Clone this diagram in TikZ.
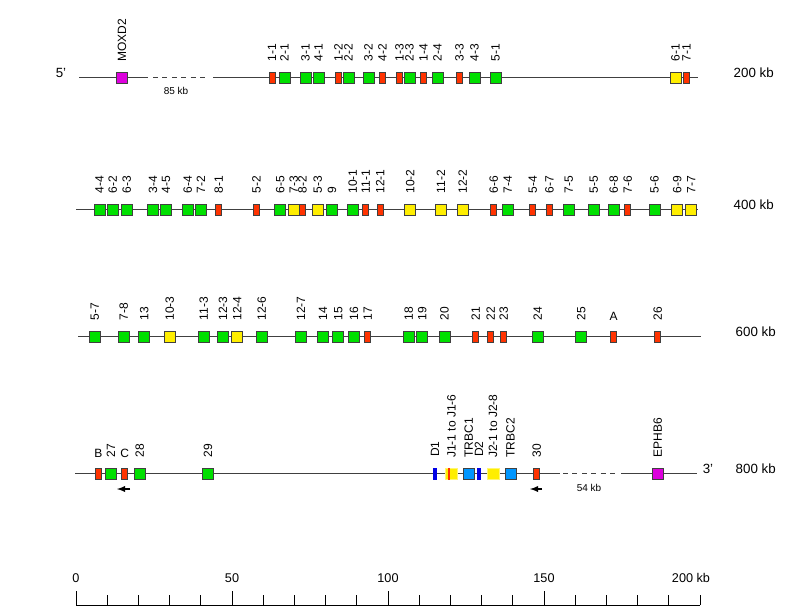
\documentclass[tikz,border=0pt]{standalone}
\usepackage{fontspec}
\setmainfont{Liberation Sans}
\usetikzlibrary{arrows}

\definecolor{fctgreen}{RGB}{0,224,0}
\definecolor{orfred}{RGB}{255,51,0}
\definecolor{psyellow}{RGB}{255,238,0}
\definecolor{locmag}{RGB}{221,0,221}
\definecolor{cblue}{RGB}{0,150,255}
\definecolor{dblue}{RGB}{0,0,230}

\tikzstyle{line}=[black!75,line width=.75pt]
\tikzstyle{gap}=[line,dash pattern=on 3.75pt off 3.3pt]
\tikzstyle{gene}=[draw=black!75,line width=.5pt,inner sep=0,minimum width=8.25pt,minimum height=8.25pt]
\tikzstyle{fct}=[gene,fill=fctgreen]
\tikzstyle{orf}=[gene,fill=orfred,minimum width=4.5pt]
\tikzstyle{pseudo}=[gene,fill=psyellow]
\tikzstyle{other}=[gene,fill=locmag]
\tikzstyle{cgene}=[gene,fill=cblue]
\tikzstyle{dgene}=[inner sep=0,fill=dblue,minimum width=3pt,minimum height=9pt]
\tikzstyle{jgene}=[inner sep=0,fill=psyellow,draw=psyellow!55,line width=.6pt,minimum width=9pt,minimum height=8.4pt]
\tikzstyle{lab}=[rotate=90,anchor=west,inner sep=0]
\tikzstyle{uplab}=[anchor=south,inner sep=0]
\tikzstyle{kb}=[anchor=west,font=\fontsize{10}{10}\selectfont]
\tikzstyle{small}=[font=\fontsize{7.5}{7.5}\selectfont]
\tikzstyle{orient}=[-latex,line width=1.1pt]

\begin{document}
\begin{tikzpicture}[x=.75pt,y=-.75pt,font=\fontsize{9}{9}\selectfont]
	\useasboundingbox (0,0) rectangle (803,607);

	%row 1
	\draw[line] (79,77.5) -- (148,77.5);
	\draw[gap] (153,77.5) -- (208,77.5);
	\draw[line] (213,77.5) -- (698,77.5);
	\node[kb,anchor=center] (five) at (61,73) {5'};
	\node[small] (gap85) at (176,91) {85 kb};
	\node[kb] (kb200) at (729,73) {200 kb};
	\foreach \x/\t/\n in {122/other/MOXD2,272/orf/1-1,284.5/fct/2-1,305.5/fct/3-1,318.5/fct/4-1,
		338.5/orf/1-2,348.5/fct/2-2,368.5/fct/3-2,382.5/orf/4-2,399.5/orf/1-3,409.5/fct/2-3,
		423.5/orf/1-4,437.5/fct/2-4,459.5/orf/3-3,474.5/fct/4-3,495.5/fct/5-1,675.5/pseudo/6-1,686.5/orf/7-1}
	{
		\node[\t] (a\n) at (\x,77.5) {};
		\node[lab] (la\n) at ([yshift=7.5pt]a\n.north) {\n};
	}

	%row 2
	\draw[line] (76,209.5) -- (698,209.5);
	\node[kb] (kb400) at (729,205) {400 kb};
	\foreach \x/\t/\n in {99.5/fct/4-4,112.7/fct/6-2,126.7/fct/6-3,153/fct/3-4,166/fct/4-5,
		187.7/fct/6-4,201/fct/7-2,218.8/orf/8-1,256.5/orf/5-2,280.3/fct/6-5,293.7/pseudo/7-3,
		302.5/orf/8-2,317.7/pseudo/5-3,332/fct/9,352.7/fct/10-1,365.8/orf/11-1,380.2/orf/12-1,
		410.3/pseudo/10-2,441/pseudo/11-2,462.8/pseudo/12-2,493.8/orf/6-6,507.8/fct/7-4,
		532.8/orf/5-4,549.5/orf/6-7,568.8/fct/7-5,593.8/fct/5-5,613.8/fct/6-8,627.8/orf/7-6,
		654.5/fct/5-6,677.2/pseudo/6-9,691.2/pseudo/7-7}
	{
		\node[\t] (b\n) at (\x,209.5) {};
		\node[lab] (lb\n) at ([yshift=7.5pt]b\n.north) {\n};
	}

	%row 3
	\draw[line] (78,336.5) -- (701,336.5);
	\node[kb] (kb600) at (731,332) {600 kb};
	\foreach \x/\t/\n in {94.7/fct/5-7,123.7/fct/7-8,144.3/fct/13,169.7/pseudo/10-3,203.7/fct/11-3,
		223/fct/12-3,237.3/pseudo/12-4,261.7/fct/12-6,301/fct/12-7,323/fct/14,338.3/fct/15,
		354/fct/16,367.8/orf/17,408.7/fct/18,422.3/fct/19,444.5/fct/20,475.8/orf/21,490.8/orf/22,
		503.8/orf/23,537.8/fct/24,581.2/fct/25,657.8/orf/26}
	{
		\node[\t] (c\n) at (\x,336.5) {};
		\node[lab] (lc\n) at ([yshift=7.5pt]c\n.north) {\n};
	}
	\node[orf] (cA) at (613.5,336.5) {};
	\node[uplab] (lcA) at ([yshift=7.5pt]cA.north) {A};

	%row 4
	\draw[line] (75,473.5) -- (560,473.5);
	\draw[gap] (563,473.5) -- (618,473.5);
	\draw[line] (621,473.5) -- (697,473.5);
	\node[kb,anchor=center] (three) at (708,469) {3'};
	\node[small] (gap54) at (589,488) {54 kb};
	\node[kb] (kb800) at (731,469) {800 kb};
	\foreach \x/\t/\n in {111/fct/27,139.7/fct/28,208/fct/29,435/dgene/D1,468.7/cgene/TRBC1,
		479/dgene/D2,510.5/cgene/TRBC2,536.8/orf/30,657.8/other/EPHB6}
	{
		\node[\t] (d\n) at (\x,473.5) {};
		\node[lab] (ld\n) at ([yshift=7.5pt]d\n.north) {\n};
	}
	\node[orf] (dB) at (98.5,473.5) {};
	\node[uplab] (ldB) at ([yshift=7.5pt]dB.north) {B};
	\node[orf] (dC) at (124.8,473.5) {};
	\node[uplab] (ldC) at ([yshift=7.5pt]dC.north) {C};
	\node[jgene] (dJ1) at (451.5,474) {};
	\fill[orfred] ([xshift=2.2pt]dJ1.south west) rectangle ([xshift=3.4pt]dJ1.north west);
	\node[lab] (ldJ1) at ([yshift=7.5pt]dJ1.north) {J1-1 to J1-6};
	\node[jgene] (dJ2) at (493,474) {};
	\node[lab] (ldJ2) at ([yshift=7.5pt]dJ2.north) {J2-1 to J2-8};
	\coordinate (tC) at (130,489);
	\coordinate (hC) at (117,489);
	\draw[orient] (tC) -- (hC);
	\coordinate (t30) at (542,489);
	\coordinate (h30) at (530,489);
	\draw[orient] (t30) -- (h30);

	%axis
	\draw[black,line width=.75pt] (76,605) -- (700,605);
	\foreach \k in {0,...,20}
		\draw[black,line width=.75pt] (76+31.2*\k,605) -- (76+31.2*\k,595);
	\foreach \k/\v in {0/0,5/50,10/100,15/150}
	{
		\draw[black,line width=.75pt] (76+31.2*\k,605) -- (76+31.2*\k,591);
		\node[font=\fontsize{9.5}{9.5}\selectfont] (s\v) at (76+31.2*\k,578) {\v};
	}
	\node[font=\fontsize{9.5}{9.5}\selectfont] (s200) at (691,578) {200 kb};
\end{tikzpicture}
\end{document}
